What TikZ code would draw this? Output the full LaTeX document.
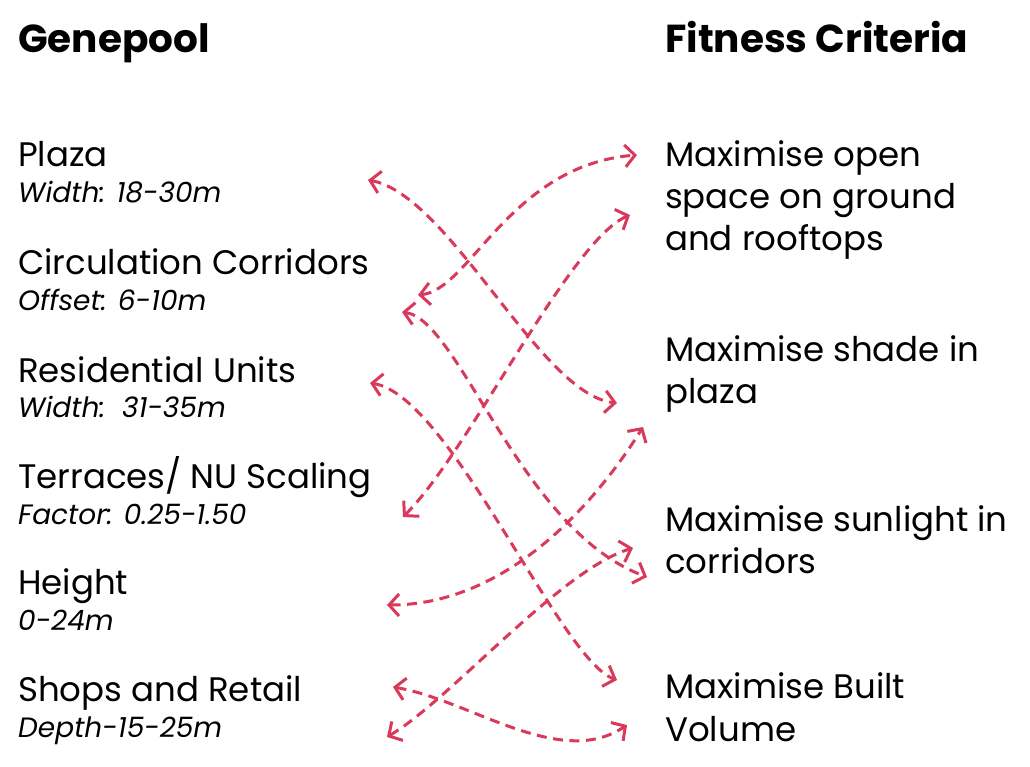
\documentclass[tikz,border=0pt]{standalone}
\usepackage{fontspec}
\setmainfont{Poppins}
\usetikzlibrary{arrows.meta}
\definecolor{arrowred}{RGB}{217,58,91}
\begin{document}
\begin{tikzpicture}[x=1pt,y=-1pt,
  head/.style={anchor=base west,inner sep=0pt,font=\fontsize{39}{46}\selectfont\bfseries},
  item/.style={anchor=base west,inner sep=0pt,font=\fontsize{34}{40}\selectfont},
  sub/.style={anchor=base west,inner sep=0pt,font=\fontsize{28}{32}\selectfont\itshape},
  tip/.style={Straight Barb[length=10pt,width=22pt,line width=3pt]},
  link/.style={draw=arrowred,line width=3pt,dash pattern=on 10pt off 6.5pt,
    {Straight Barb[length=10pt,width=22pt,line width=3pt]}-{Straight Barb[length=10pt,width=22pt,line width=3pt]}}]
\useasboundingbox (0,0) rectangle (1030,767);
% headings
\node[head] (gp) at (18,53) {Genepool};
\node[head] (fc) at (665,53) {Fitness Criteria};
% left items
\node[item] (plaza) at (18,167) {Plaza};
\node[sub] (plazas) at (18,203) {Width: 18-30m};
\node[item] (circ) at (18,275) {Circulation Corridors};
\node[sub] (circs) at (18,310) {Offset: 6-10m};
\node[item] (res) at (18,382) {Residential Units};
\node[sub] (ress) at (18,417) {Width:\ \ 31-35m};
\node[item] (ter) at (18,488) {Terraces/ NU Scaling};
\node[sub] (ters) at (18,524) {Factor: 0.25-1.50};
\node[item] (hei) at (18,594) {Height};
\node[sub] (heis) at (18,630) {0-24m};
\node[item] (shop) at (18,701) {Shops and Retail};
\node[sub] (shops) at (18,737) {Depth-15-25m};
% right items
\node[item] (o1) at (665,167) {Maximise open};
\node[item] (o2) at (665,209) {space on ground};
\node[item] (o3) at (665,251) {and rooftops};
\node[item] (s1) at (665,361) {Maximise shade in};
\node[item] (s2) at (665,403) {plaza};
\node[item] (u1) at (665,531) {Maximise sunlight in};
\node[item] (u2) at (665,573) {corridors};
\node[item] (b1) at (665,698) {Maximise Built};
\node[item] (b2) at (665,741) {Volume};
% connector ends
\coordinate (pA) at (368,180);
\coordinate (cA) at (418,295);
\coordinate (cB) at (402,312);
\coordinate (rA) at (370,383);
\coordinate (tA) at (403,517);
\coordinate (hA) at (387,605);
\coordinate (shA) at (393,687);
\coordinate (shB) at (387,737);
\coordinate (oA) at (637,155);
\coordinate (oB) at (630,215);
\coordinate (sA) at (617,403);
\coordinate (sB) at (643,427);
\coordinate (uA) at (633,548);
\coordinate (uB) at (647,577);
\coordinate (bA) at (617,680);
\coordinate (bB) at (627,725);
% connectors
\draw[link] (pA) .. controls (450,195) and (540,395) .. (sA);
\draw[link] (cA) .. controls (470,290) and (510,165) .. (oA);
\draw[link] (tA) .. controls (470,450) and (570,240) .. (oB);
\draw[link] (cB) .. controls (460,320) and (520,530) .. (uB);
\draw[link] (hA) .. controls (520,605) and (610,480) .. (sB);
\draw[link] (shB) .. controls (450,700) and (560,570) .. (uA);
\draw[link] (shA) .. controls (470,700) and (560,770) .. (bB);
\draw[link] (rA) .. controls (450,395) and (560,660) .. (bA);
\end{tikzpicture}
\end{document}
